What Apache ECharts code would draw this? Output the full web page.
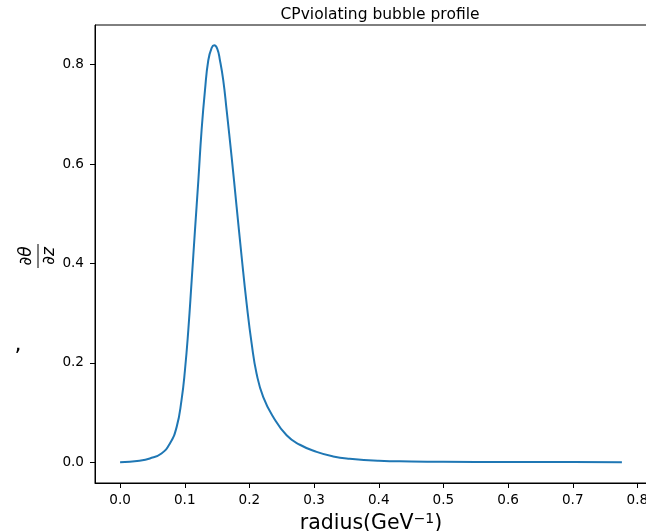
<!DOCTYPE html>
<html>
<head>
<meta charset="utf-8">
<script src="https://cdn.jsdelivr.net/npm/echarts@6/dist/echarts.min.js"></script>
<style>
  html, body { margin: 0; padding: 0; background: #fff; }
  #chart { width: 646px; height: 531px; }
</style>
</head>
<body>
<div id="chart"></div>
<script>
// radius values (GeV^-1)
const radius = [0, 0.03, 0.046, 0.064, 0.077, 0.0875, 0.095, 0.1003, 0.1055, 0.1107, 0.1158, 0.121, 0.126,
  0.1312, 0.1364, 0.1416, 0.1456, 0.1503, 0.1544, 0.1595, 0.1648, 0.1725, 0.1802, 0.188, 0.1957,
  0.2034, 0.2111, 0.2214, 0.2368, 0.2575, 0.278, 0.3039, 0.3295, 0.355, 0.4, 0.45, 0.5, 0.6, 0.7, 0.776]
// d theta / dz
const profile = [0, 0.003, 0.0074, 0.0175, 0.0376, 0.071, 0.125, 0.185, 0.266, 0.366, 0.467, 0.567, 0.668,
  0.748, 0.809, 0.834, 0.839, 0.832, 0.809, 0.769, 0.708, 0.614, 0.514, 0.413, 0.319,
  0.239, 0.178, 0.131, 0.091, 0.054, 0.035, 0.0207, 0.0115, 0.0068, 0.0028, 0.0014, 0.0008, 0.0003, 0.0001, 0]

const xTicks = [0, 0.1, 0.2, 0.3, 0.4, 0.5, 0.6, 0.7, 0.8]
const yTicks = [0, 0.2, 0.4, 0.6, 0.8]

const font = 'DejaVu Sans'
const chart = echarts.init(document.getElementById('chart'))

const option = {
  animation: false,
  backgroundColor: '#fff',
  title: {
    text: 'CPviolating bubble profile',
    left: 375,
    textAlign: 'center',
    top: 2,
    textStyle: { fontFamily: font, fontSize: 15.5, fontWeight: 'normal', color: '#000' }
  },
  grid: {
    left: 95, right: -1, top: 25, bottom: 48,
    containLabel: false,
    outerBoundsMode: 'none',
    show: true, borderColor: '#000', borderWidth: 1
  },
  xAxis: {
    type: 'value',
    min: -0.0388,
    max: 0.8148,
    name: 'radius(GeV{sup|−1})',
    nameLocation: 'middle',
    nameGap: 27,
    nameTextStyle: {
      fontFamily: font, fontSize: 20.5, color: '#000', lineHeight: 24,
      rich: { sup: { fontFamily: font, fontSize: 14, color: '#000', lineHeight: 14, verticalAlign: 'top' } }
    },
    axisLine: { onZero: false, lineStyle: { color: '#000', width: 1 } },
    axisTick: { customValues: xTicks, length: 5, lineStyle: { color: '#000' } },
    axisLabel: {
      customValues: xTicks,
      formatter: v => v.toFixed(1),
      fontFamily: font, fontSize: 13.6, color: '#000', margin: 10
    },
    splitLine: { show: false }
  },
  yAxis: {
    type: 'value',
    min: -0.042,
    max: 0.88,
    axisLine: { show: true, onZero: false, lineStyle: { color: '#000', width: 1 } },
    axisTick: { show: true, customValues: yTicks, length: 5, lineStyle: { color: '#000' } },
    axisLabel: {
      customValues: yTicks,
      formatter: v => v.toFixed(1),
      fontFamily: font, fontSize: 13.6, color: '#000', margin: 11
    },
    splitLine: { show: false }
  },
  graphic: [
    {
      type: 'group',
      x: 37, y: 256,
      rotation: Math.PI / 2,
      children: [
        {
          type: 'text',
          style: {
            text: '∂θ', x: 0, y: -2, align: 'center', verticalAlign: 'bottom',
            fontFamily: font, fontStyle: 'italic', fontSize: 17, fill: '#000'
          }
        },
        {
          type: 'line',
          shape: { x1: -12, y1: 1, x2: 12, y2: 1 },
          style: { stroke: '#000', lineWidth: 1 }
        },
        {
          type: 'text',
          style: {
            text: '∂z', x: 0, y: 4, align: 'center', verticalAlign: 'top',
            fontFamily: font, fontStyle: 'italic', fontSize: 17, fill: '#000'
          }
        }
      ]
    },
    {
      type: 'text',
      x: 18, y: 345,
      style: {
        text: ',', align: 'center', verticalAlign: 'middle',
        fontFamily: font, fontSize: 22, fill: '#000'
      }
    }
  ],
  series: [
    {
      type: 'line',
      data: radius.map((r, i) => [r, profile[i]]),
      showSymbol: false,
      smooth: 0.5,
      lineStyle: { color: '#1f77b4', width: 2 },
      itemStyle: { color: '#1f77b4' }
    }
  ]
}

chart.setOption(option)
</script>
</body>
</html>
